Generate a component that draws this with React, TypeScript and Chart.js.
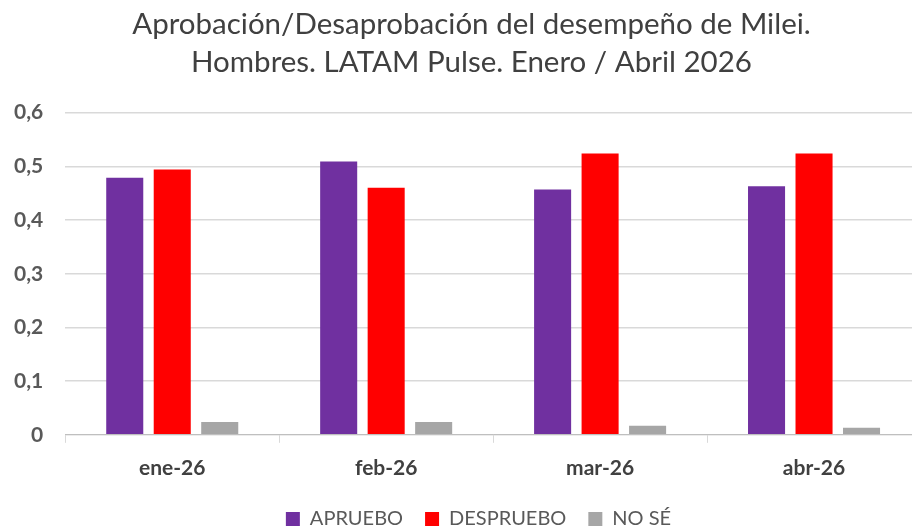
import { useEffect, useRef } from "react";
import { Chart, registerables } from "chart.js";

Chart.register(...registerables);

const categories = ["ene-26", "feb-26", "mar-26", "abr-26"];
const apruebo = [0.479, 0.509, 0.457, 0.463];
const desapruebo = [0.494, 0.46, 0.524, 0.524];
const noSe = [0.024, 0.024, 0.017, 0.013];
const titleLines = [
  "Aprobación/Desaprobación del desempeño de Milei.",
  "Hombres. LATAM Pulse. Enero / Abril 2026",
];

const shiftPlugin = {
  id: "shiftBlocks",
  afterLayout(chart: any) {
    if (chart.titleBlock) {
      chart.titleBlock.left += 15;
      chart.titleBlock.right += 15;
    }
    if (chart.legend) {
      chart.legend.left += 22;
      chart.legend.right += 22;
    }
  },
};

export default function App() {
  const ref = useRef<HTMLCanvasElement>(null);
  useEffect(() => {
    if (!ref.current) return;
    const chart = new Chart(ref.current, {
      type: "bar",
      data: {
        labels: categories,
        datasets: [
          { label: "APRUEBO", data: apruebo, backgroundColor: "#7030a0" },
          { label: "DESPRUEBO", data: desapruebo, backgroundColor: "#ff0000" },
          { label: "NO SÉ", data: noSe, backgroundColor: "#a6a6a6" },
        ],
      },
      plugins: [shiftPlugin],
      options: {
        responsive: false,
        animation: false,
        datasets: { bar: { categoryPercentage: 0.666, barPercentage: 0.78 } },
        layout: { padding: { left: -8, right: 0, top: 5, bottom: -9 } },
        plugins: {
          title: {
            display: true,
            text: titleLines,
            color: "#404040",
            font: { family: "Lato", size: 29.5, weight: "normal", lineHeight: 1.3 },
            padding: { top: 0, bottom: 31 },
          },
          legend: {
            position: "bottom",
            labels: {
              color: "#595959",
              font: { family: "Lato", size: 20 },
              boxWidth: 14,
              boxHeight: 14,
              padding: 22,
            },
          },
          tooltip: { enabled: false },
        },
        scales: {
          x: {
            grid: {
              display: true,
              drawOnChartArea: false,
              drawTicks: true,
              tickLength: 8,
              color: "#d9d9d9",
              offset: true,
            },
            border: { display: true, color: "#bfbfbf" },
            ticks: {
              color: "#404040",
              font: { family: "Lato", size: 21, weight: "bold" },
              padding: 13,
            },
            afterFit: (scale: any) => {
              scale.height -= 7;
            },
          },
          y: {
            min: 0,
            max: 0.6,
            grid: { color: "#d9d9d9", drawTicks: false, lineWidth: 1.5 },
            border: { display: false },
            ticks: {
              stepSize: 0.1,
              color: "#595959",
              padding: 22,
              font: { family: "Lato", size: 21, weight: "bold" },
              callback: (v: any) => (Number(v) === 0 ? "0" : Number(v).toFixed(1).replace(".", ",")),
            },
          },
        },
      },
    });
    return () => chart.destroy();
  }, []);
  return (
    <div style={{ position: "fixed", left: 0, top: 0, width: 912, height: 530, overflow: "hidden", background: "#fff" }}>
      <canvas ref={ref} width={921} height={530} />
    </div>
  );
}
